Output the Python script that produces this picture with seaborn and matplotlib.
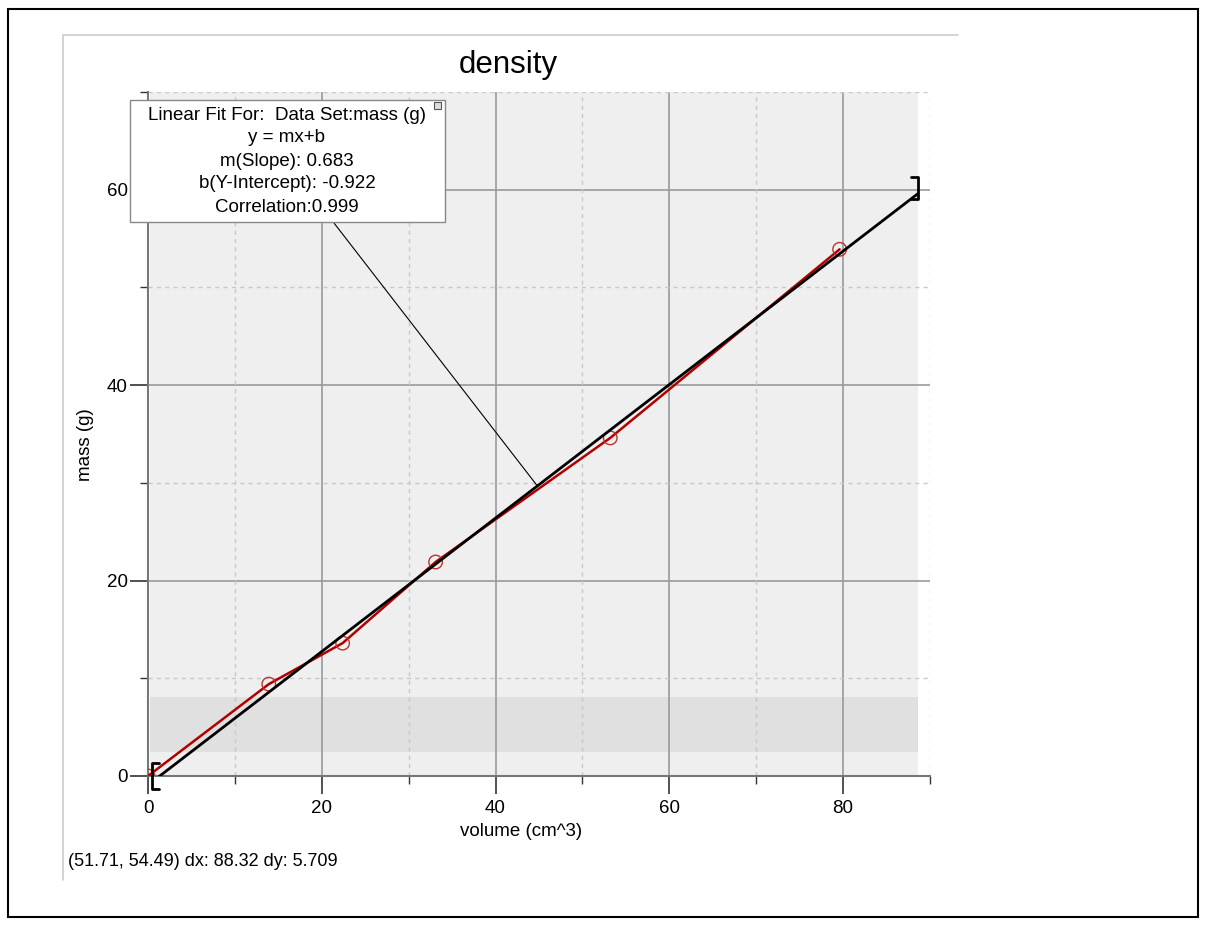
import pandas as pd
import numpy as np
import matplotlib.pyplot as plt
import seaborn as sns
from matplotlib.patches import Rectangle
from matplotlib.lines import Line2D

# Data
volume = [0.0, 13.9, 22.4, 33.1, 53.2, 79.6]
mass = [0.0, 9.4, 13.6, 21.9, 34.6, 53.9]
slope = 0.683
intercept = -0.922
fit_x = [0.3, 88.6]
box_lines = ["Linear Fit For:  Data Set:mass (g)", "y = mx+b",
             "m(Slope): 0.683", "b(Y-Intercept): -0.922", "Correlation:0.999"]
status = "(51.71, 54.49) dx: 88.32 dy: 5.709"

df = pd.DataFrame({'volume': volume, 'mass': mass})

sns.set_style("white")
plt.rcParams['font.family'] = ['Liberation Sans', 'DejaVu Sans']
plt.rcParams['text.color'] = 'black'
plt.rcParams['axes.labelcolor'] = 'black'
plt.rcParams['xtick.color'] = 'black'
plt.rcParams['ytick.color'] = 'black'

fig = plt.figure(figsize=(12.08, 9.26), dpi=100)
ax = fig.add_axes([148 / 1208, 150 / 926, 782 / 1208, 684 / 926])

# shaded backgrounds
ax.add_patch(Rectangle((0.2, 0), 88.4, 70, color='#efefef', zorder=0, lw=0))
ax.add_patch(Rectangle((0.2, 2.46), 88.4, 5.64, color='#e0e0e0', zorder=0.5, lw=0))

# grid
for v in [20, 40, 60, 80]:
    ax.axvline(v, color='#999999', lw=1.2, zorder=1)
for v in [20, 40, 60]:
    ax.axhline(v, color='#999999', lw=1.2, zorder=1)
for v in [10, 30, 50, 70, 90]:
    ax.axvline(v, color='#c8c8c8', lw=1, ls=(0, (3, 3)), zorder=1)
for v in [10, 30, 50, 70]:
    ax.axhline(v, color='#c8c8c8', lw=1, ls=(0, (3, 3)), zorder=1)

# data and fit
sns.lineplot(data=df, x='volume', y='mass', color='#b00000', lw=1.8, ax=ax, zorder=3)
sns.scatterplot(data=df, x='volume', y='mass', facecolor='none', edgecolor='#c03030',
                s=95, linewidth=1, ax=ax, zorder=4)
fx = np.array(fit_x)
ax.plot(fx, slope * fx + intercept, color='black', lw=2, zorder=5)

# range brackets
y1 = slope * fit_x[1] + intercept
ax.plot([1.3, 0.5, 0.5, 1.3], [1.3, 1.3, -1.3, -1.3], color='black', lw=2, clip_on=False, zorder=6)
ax.plot([87.8, 88.6, 88.6, 87.8], [y1 + 1.7, y1 + 1.7, y1 - 0.5, y1 - 0.5],
        color='black', lw=2, clip_on=False, zorder=6)

ax.set_xlim(0, 90)
ax.set_ylim(0, 70)
ax.set_xticks([0, 20, 40, 60, 80])
ax.set_yticks([0, 20, 40, 60])
ax.set_xticks([10, 30, 50, 70, 90], minor=True)
ax.set_yticks([10, 30, 50, 70], minor=True)
ax.tick_params(axis='both', which='major', length=13, width=1.2, color='#333333',
               labelsize=13.5, direction='out', pad=1.5)
ax.tick_params(axis='x', which='major', pad=4)
ax.tick_params(axis='both', which='minor', length=5.5, width=1, color='#333333', direction='out')
ax.tick_params(axis='x', which='both', bottom=True)
ax.tick_params(axis='y', which='both', left=True)
for s in ['top', 'right']:
    ax.spines[s].set_visible(False)
for s in ['left', 'bottom']:
    ax.spines[s].set_color('#777777')
    ax.spines[s].set_linewidth(1.5)

ax.set_xlabel("volume (cm^3)", fontsize=13.5, va='center', ha='center')
ax.xaxis.set_label_coords((521 - 148) / 782, (776 - 831) / 684)
ax.set_ylabel("mass (g)", fontsize=13.5, va='center', ha='center')
ax.yaxis.set_label_coords((86 - 148) / 782, (776 - 445) / 684)
fig.text(508 / 1208, 1 - 65 / 926, "density", fontsize=22.5, ha='center', va='center')

# linear fit info box and leader line
ax.plot([21.4, 44.8], [56.6, 29.7], color='black', lw=0.8, zorder=7)
box = Rectangle((130 / 1208, 1 - 222 / 926), 315 / 1208, 122 / 926, transform=fig.transFigure,
                facecolor='white', edgecolor='#888888', lw=1, zorder=10)
fig.add_artist(box)
fig.add_artist(Rectangle((434 / 1208, 1 - 109 / 926), 7 / 1208, 7 / 926, transform=fig.transFigure,
                         facecolor='#dddddd', edgecolor='#555555', lw=0.8, zorder=11))
for i, line in enumerate(box_lines):
    fig.text(287 / 1208, 1 - (115 + 23 * i) / 926, line, fontsize=13.5, ha='center', va='center',
             zorder=12)

fig.text(68 / 1208, 1 - 862 / 926, status, fontsize=13, ha='left', va='center')

# frames
fig.add_artist(Rectangle((8 / 1208, 9 / 926), 1190 / 1208, 908 / 926, transform=fig.transFigure,
                         fill=False, edgecolor='black', lw=1.5))
fig.add_artist(Line2D([63 / 1208, 958 / 1208], [1 - 35 / 926, 1 - 35 / 926], transform=fig.transFigure,
                      color='#cccccc', lw=1.2))
fig.add_artist(Line2D([63 / 1208, 63 / 1208], [1 - 35 / 926, 1 - 880 / 926], transform=fig.transFigure,
                      color='#cccccc', lw=1.2))

plt.savefig("out.png", dpi=100)
